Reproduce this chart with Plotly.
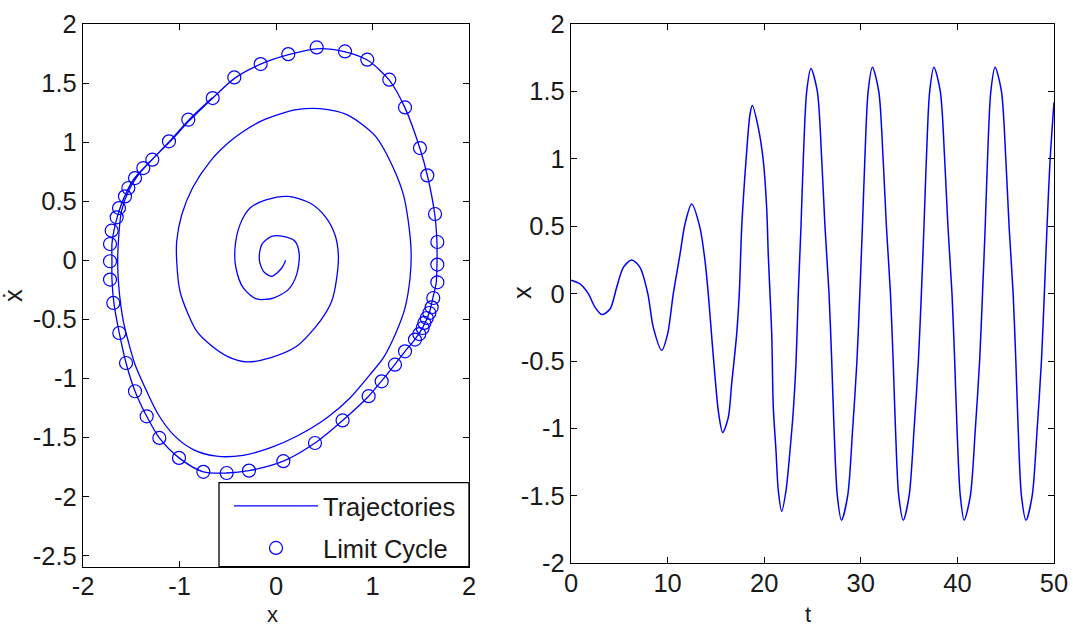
import plotly.graph_objects as go

# ---- phase plane: trajectory (x, x-dot) spiralling out onto the limit cycle ----
traj_x = [0.10, 0.06, -0.045, -0.13, -0.173, -0.148, -0.045, 0.076, 0.197, 0.241,
          0.214, 0.127, -0.028, -0.20, -0.339, -0.415, -0.425, -0.373, -0.269, -0.096,
          0.127, 0.352, 0.508, 0.611, 0.646, 0.629, 0.577, 0.456, 0.214, -0.062,
          -0.30, -0.50, -0.684, -0.822, -0.909, -0.995, -1.029, -1.029, -0.977, -0.86,
          -0.68, -0.50, -0.34, -0.15, 0.03, 0.214, 0.456, 0.733, 0.94, 1.05,
          1.216, 1.32, 1.371, 1.40, 1.389, 1.337, 1.25, 1.112, 0.974, 0.767,
          0.525, 0.214, -0.062, -0.339, -0.614, -0.857, -1.064, -1.22, -1.34, -1.461,
          -1.531, -1.582, -1.62, -1.64, -1.63, -1.60, -1.52, -1.40, -1.25, -1.08,
          -0.90, -0.66, -0.43, -0.16, 0.13, 0.42, 0.715, 0.946, 1.174, 1.337,
          1.49, 1.568, 1.645, 1.668, 1.668, 1.66, 1.625, 1.59, 1.52, 1.44,
          1.337, 1.233, 1.095, 0.96, 0.69, 0.404, 0.076, -0.28, -0.511, -0.753,
          -1.005, -1.209, -1.34, -1.461, -1.554, -1.624, -1.68, -1.70, -1.70, -1.70,
          -1.68, -1.64, -1.58, -1.48, -1.30, -1.10, -0.90, -0.66]
traj_v = [0.00, -0.065, -0.135, -0.093, 0.006, 0.133, 0.203, 0.203, 0.161, 0.048,
          -0.121, -0.248, -0.319, -0.327, -0.234, -0.065, 0.104, 0.302, 0.442, 0.513,
          0.541, 0.485, 0.372, 0.217, 0.048, -0.15, -0.347, -0.516, -0.728, -0.826,
          -0.86, -0.815, -0.713, -0.60, -0.459, -0.262, -0.008, 0.161, 0.386, 0.62,
          0.84, 0.99, 1.09, 1.18, 1.235, 1.275, 1.283, 1.233, 1.119, 1.03,
          0.781, 0.556, 0.33, 0.076, -0.15, -0.403, -0.60, -0.826, -0.967, -1.165,
          -1.334, -1.489, -1.588, -1.65, -1.658, -1.602, -1.475, -1.305, -1.108, -0.882,
          -0.685, -0.516, -0.30, -0.05, 0.20, 0.42, 0.60, 0.75, 0.88, 1.02,
          1.18, 1.37, 1.54, 1.66, 1.74, 1.79, 1.765, 1.695, 1.525, 1.29,
          0.95, 0.72, 0.39, 0.155, -0.04, -0.19, -0.32, -0.44, -0.57, -0.67,
          -0.77, -0.88, -1.02, -1.15, -1.355, -1.546, -1.70, -1.78, -1.80, -1.79,
          -1.672, -1.503, -1.32, -1.108, -0.869, -0.615, -0.36, -0.16, 0.0, 0.14,
          0.25, 0.38, 0.52, 0.68, 0.84, 1.01, 1.19, 1.375]

# ---- sampled points of the limit cycle ----
cycle_x = [-1.624, -1.686, -1.72, -1.72, -1.72, -1.703, -1.651, -1.627, -1.565, -1.530,
           -1.461, -1.375, -1.282, -1.109, -0.909, -0.656, -0.432, -0.159, 0.127, 0.422,
           0.715, 0.946, 1.174, 1.337, 1.492, 1.568, 1.648, 1.672, 1.672, 1.672,
           1.63, 1.613, 1.589, 1.562, 1.537, 1.520, 1.485, 1.440, 1.337, 1.233,
           1.095, 0.96, 0.69, 0.404, 0.076, -0.28, -0.511, -0.753, -1.005, -1.209,
           -1.340, -1.461, -1.554]
cycle_v = [-0.615, -0.361, -0.163, -0.008, 0.138, 0.251, 0.364, 0.442, 0.541, 0.612,
           0.696, 0.781, 0.852, 1.007, 1.19, 1.373, 1.548, 1.661, 1.745, 1.802,
           1.768, 1.698, 1.529, 1.294, 0.95, 0.719, 0.392, 0.155, -0.036, -0.186,
           -0.319, -0.398, -0.446, -0.488, -0.530, -0.573, -0.624, -0.671, -0.770, -0.883,
           -1.024, -1.15, -1.355, -1.546, -1.70, -1.78, -1.80, -1.79, -1.672, -1.503,
           -1.32, -1.108, -0.869]

# ---- time history x(t) ----
t_vals = [0.0, 0.93, 1.79, 2.48, 3.18, 4.04, 4.73, 5.42, 6.28, 7.14,
          7.95, 8.52, 9.39, 10.0, 10.59, 11.28, 11.8, 12.49, 13.35, 13.87,
          14.21, 14.6, 14.95, 15.25, 15.7, 16.28, 16.63, 17.15, 17.42, 17.67,
          18.12, 18.53, 18.77, 19.39, 19.9, 20.26, 20.42, 20.6, 20.78, 20.94,
          21.22, 21.46, 21.81, 22.26, 22.67, 23.01, 23.30, 23.53, 23.81, 24.05,
          24.4, 24.84, 25.5, 25.95, 26.29, 26.71, 26.99, 27.23, 27.57, 28.0,
          28.64, 29.16, 29.6, 29.9, 30.17, 30.42, 30.76, 31.2, 31.86, 32.31,
          32.65, 33.07, 33.35, 33.59, 33.93, 34.4, 35.0, 35.52, 35.96, 36.27,
          36.54, 36.79, 37.13, 37.57, 38.23, 38.68, 39.02, 39.44, 39.72, 39.96,
          40.3, 40.7, 41.34, 41.86, 42.3, 42.6, 42.88, 43.12, 43.46, 43.9,
          44.56, 45.01, 45.35, 45.77, 46.05, 46.29, 46.63, 47.1, 47.74, 48.26,
          48.7, 49.0, 49.28, 49.6, 50.0]
x_vals = [0.10, 0.072, 0.0, -0.10, -0.155, -0.114, 0.047, 0.195, 0.25, 0.195,
          0.0, -0.25, -0.42, -0.30, 0.0, 0.29, 0.517, 0.665, 0.49, 0.245,
          0.0, -0.35, -0.65, -0.87, -1.03, -0.92, -0.67, -0.30, 0.0, 0.49,
          0.99, 1.33, 1.395, 1.23, 0.99, 0.63, 0.29, 0.0, -0.30, -0.84,
          -1.165, -1.46, -1.615, -1.46, -1.165, -0.87, -0.50, 0.0, 0.50, 1.0,
          1.5, 1.67, 1.5, 1.0, 0.5, 0.0, -0.5, -1.0, -1.5, -1.68,
          -1.5, -1.0, -0.5, 0.0, 0.5, 1.0, 1.5, 1.68, 1.5, 1.0,
          0.5, 0.0, -0.5, -1.0, -1.5, -1.68, -1.5, -1.0, -0.5, 0.0,
          0.5, 1.0, 1.5, 1.68, 1.5, 1.0, 0.5, 0.0, -0.5, -1.0,
          -1.5, -1.68, -1.5, -1.0, -0.5, 0.0, 0.5, 1.0, 1.5, 1.68,
          1.5, 1.0, 0.5, 0.0, -0.5, -1.0, -1.5, -1.68, -1.5, -1.0,
          -0.5, 0.0, 0.5, 1.0, 1.42]

# tick labels (plain hyphen minus signs)
phase_xticks = [-2, -1, 0, 1, 2]
phase_yticks = [2, 1.5, 1, 0.5, 0, -0.5, -1, -1.5, -2, -2.5]
time_xticks = [0, 10, 20, 30, 40, 50]
time_yticks = [2, 1.5, 1, 0.5, 0, -0.5, -1, -1.5, -2]

BLUE = "#0000ff"
INK = "#1a1a1a"
FONT = "Liberation Sans, Arial, sans-serif"
FS = 25.5
W, H = 1073, 628

# plot-area edges in pixels
L1, R1, T1, B1 = 83, 469, 24, 566.7
L2, R2, T2, B2 = 571, 1054, 24, 563.3


def px(x):
    return x / W


def py(y):
    return 1 - y / H


fig = go.Figure()
fig.add_trace(go.Scatter(
    x=traj_x, y=traj_v, mode="lines", name="Trajectories",
    line=dict(color=BLUE, width=1.3, shape="spline", smoothing=0.8),
    xaxis="x", yaxis="y", legendgroup="a"))
fig.add_trace(go.Scatter(
    x=cycle_x, y=cycle_v, mode="markers", name="Limit Cycle",
    marker=dict(symbol="circle-open", size=13, color=BLUE, line=dict(width=1.2)),
    xaxis="x", yaxis="y", legendgroup="b"))
fig.add_trace(go.Scatter(
    x=t_vals, y=x_vals, mode="lines", showlegend=False,
    line=dict(color=BLUE, width=1.5, shape="spline", smoothing=0.8),
    xaxis="x2", yaxis="y2"))

axis_common = dict(
    showline=True, linecolor="black", linewidth=1.3, mirror="ticks",
    ticks="inside", ticklen=6, tickcolor="black", tickwidth=1.2,
    showgrid=False, zeroline=False, automargin=False,
    tickfont=dict(family=FONT, size=FS, color=INK),
)


def labels(vals):
    return [f"{v:g}" for v in vals]


def axis_title(text, x, y, angle=0, size=FS):
    return dict(text=text, x=px(x), y=py(y), xref="paper", yref="paper",
                xanchor="center", yanchor="middle", showarrow=False,
                textangle=angle, font=dict(family=FONT, size=size, color=INK))


fig.update_layout(
    width=W, height=H,
    margin=dict(l=0, r=0, t=0, b=0),
    paper_bgcolor="white", plot_bgcolor="white",
    font=dict(family=FONT, size=FS, color=INK),
    xaxis=dict(domain=[px(L1), px(R1)], range=[-2, 2],
               tickvals=phase_xticks, ticktext=labels(phase_xticks),
               ticklabelstandoff=-3, anchor="y", **axis_common),
    yaxis=dict(domain=[py(B1), py(T1)], range=[-2.593, 2],
               tickvals=phase_yticks, ticktext=labels(phase_yticks),
               anchor="x", **axis_common),
    xaxis2=dict(domain=[px(L2), px(R2)], range=[0, 50],
                tickvals=time_xticks, ticktext=labels(time_xticks),
                ticklabelstandoff=-3, anchor="y2", **axis_common),
    yaxis2=dict(domain=[py(B2), py(T2)], range=[-2, 2],
                tickvals=time_yticks, ticktext=labels(time_yticks),
                anchor="x2", **axis_common),
    legend=dict(x=px(229), y=py(482.7), xanchor="left", yanchor="top",
                bgcolor="rgba(0,0,0,0)", borderwidth=0,
                font=dict(family=FONT, size=FS, color=INK),
                itemwidth=84, tracegroupgap=6),
    showlegend=True,
    shapes=[dict(type="rect", xref="paper", yref="paper",
                 x0=px(219), x1=px(R1), y0=py(B1), y1=py(482.7),
                 line=dict(color="black", width=1.3), fillcolor="white",
                 layer="above")],
    annotations=[
        axis_title("x", 272, 614, size=22),
        axis_title("ẋ", 13, 296, -90),
        axis_title("t", 808, 614, size=22),
        axis_title("x", 522, 293, -90),
    ],
)

fig.write_html("out.html")
